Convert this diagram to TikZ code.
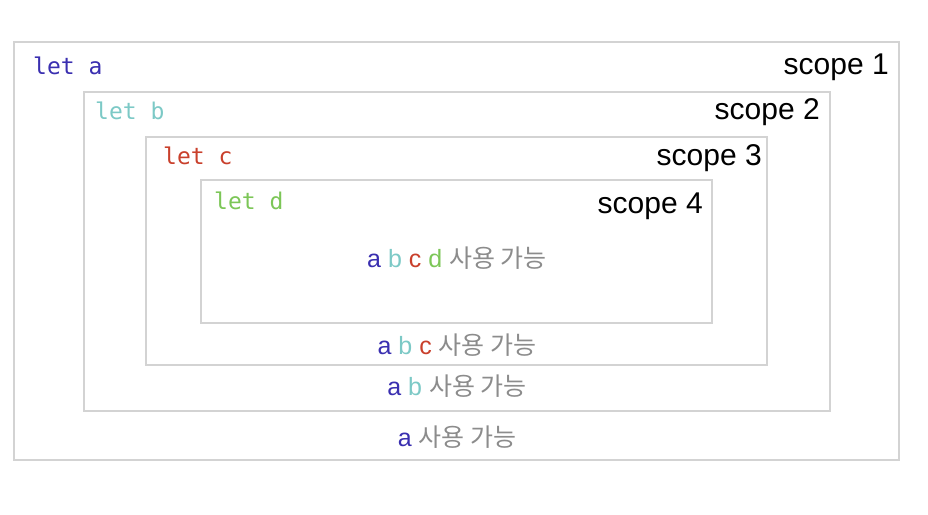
\documentclass[tikz,border=0pt]{standalone}
\usepackage{fontspec}
\setmainfont{Liberation Sans}
\setmonofont{DejaVu Sans Mono}
\newfontfamily\krfont{Noto Sans CJK KR}
\usetikzlibrary{positioning}
\definecolor{cVarA}{HTML}{3A2FB0}
\definecolor{cVarB}{HTML}{7CC9C6}
\definecolor{cVarC}{HTML}{C9402C}
\definecolor{cVarD}{HTML}{7CC657}
\definecolor{cBorder}{HTML}{D3D3D3}
\definecolor{cGray}{HTML}{8C8C8C}

\begin{document}
\begin{tikzpicture}[
  x=1pt, y=-1pt,
  scopebox/.style={
    draw=cBorder, line width=2.8pt, inner sep=0pt, outer sep=0pt,
    anchor=north west
  },
  letlabel/.style={
    font=\fontsize{23}{26}\selectfont\ttfamily, text=#1,
    anchor=west, inner sep=0pt
  },
  scopelabel/.style={
    font=\fontsize{30}{33}\selectfont, anchor=east, inner sep=0pt
  },
  uselabel/.style={
    font=\fontsize{25}{28}\selectfont, text=cGray, inner sep=0pt
  },
]
\useasboundingbox (0,0) rectangle (928,514);

% nested scope boxes
\node[scopebox, minimum width=885pt, minimum height=418pt] (s1) at (14,42) {};
\node[scopebox, minimum width=746pt, minimum height=319pt] (s2) at (84,92) {};
\node[scopebox, minimum width=621pt, minimum height=228pt] (s3) at (146,137) {};
\node[scopebox, minimum width=511pt, minimum height=143pt] (s4) at (201,180) {};

% declarations
\node[letlabel=cVarA] (leta) at ([shift={(19,24)}]s1.north west) {let a};
\node[letlabel=cVarB] (letb) at ([shift={(11,19)}]s2.north west) {let b};
\node[letlabel=cVarC] (letc) at ([shift={(17,19)}]s3.north west) {let c};
\node[letlabel=cVarD] (letd) at ([shift={(13,21)}]s4.north west) {let d};

% scope names
\node[scopelabel] (name1) at ([shift={(-10,25)}]s1.north east) {scope 1};
\node[scopelabel] (name2) at ([shift={(-10,20)}]s2.north east) {scope 2};
\node[scopelabel] (name3) at ([shift={(-5,21)}]s3.north east) {scope 3};
\node[scopelabel] (name4) at ([shift={(-9,26)}]s4.north east) {scope 4};

% visible variables
\node[uselabel] (use4) at (457,258) {\textcolor{cVarA}{a} \textcolor{cVarB}{b}
  \textcolor{cVarC}{c} \textcolor{cVarD}{d} {\krfont 사용 가능}};
\node[uselabel] (use3) at (457,345) {\textcolor{cVarA}{a} \textcolor{cVarB}{b}
  \textcolor{cVarC}{c} {\krfont 사용 가능}};
\node[uselabel] (use2) at (457,386) {\textcolor{cVarA}{a} \textcolor{cVarB}{b}
  {\krfont 사용 가능}};
\node[uselabel] (use1) at (457,437) {\textcolor{cVarA}{a} {\krfont 사용 가능}};

\end{tikzpicture}
\end{document}
